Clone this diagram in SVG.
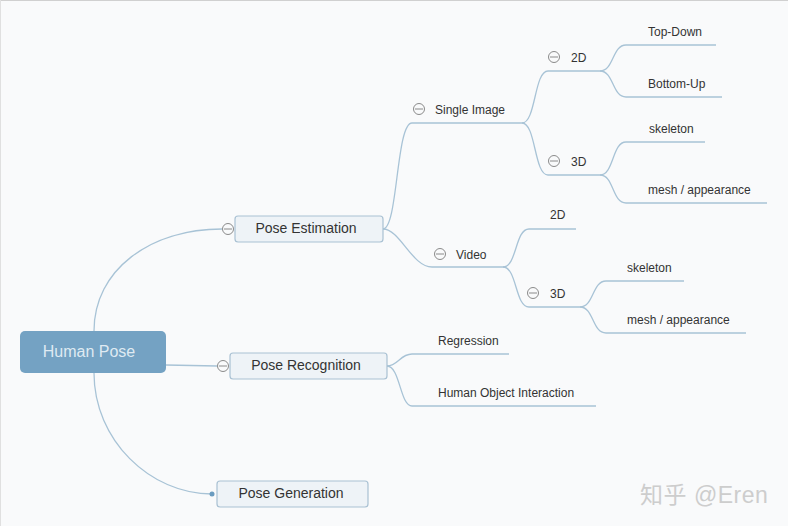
<svg xmlns="http://www.w3.org/2000/svg" width="788" height="526" viewBox="0 0 788 526">
<style>
.bg{fill:#f9fafb}
.c{fill:none;stroke:#a8c3d6;stroke-width:1.3}
.box{fill:#eef3f7;stroke:#a9c1d3;stroke-width:1.2}
.t{font-family:"Liberation Sans",Arial,sans-serif;fill:#333;font-size:12px}
.tb{font-family:"Liberation Sans",Arial,sans-serif;fill:#333;font-size:14px;text-anchor:middle}
.tog{fill:#f9fafb;stroke:#8a8a8a;stroke-width:1}
.wm{font-family:"Liberation Sans","Noto Sans CJK SC",sans-serif;fill:#cdcdcd;font-size:23px;letter-spacing:0.5px}
</style>
<defs>
<g id="toggle"><circle class="tog" r="5.5"/><line x1="-4" y1="0" x2="4" y2="0" stroke="#8a8a8a" stroke-width="1"/></g>
</defs>
<rect class="bg" x="0" y="0" width="788" height="526"/>
<line x1="0" y1="0.5" x2="788" y2="0.5" stroke="#d0d0d0"/>
<line x1="0.5" y1="0" x2="0.5" y2="526" stroke="#e0e0e0"/>
<g id="connectors">
<path class="c" d="M94,331 C94,270 150,229 222,229"/>
<path class="c" d="M94,373 C94,440 150,494 212,494"/>
<path class="c" d="M166,365 L217,366"/>
<path class="c" d="M383,229 C398,229 396,123 412,123 L522,123"/>
<path class="c" d="M383,229 C400,229 412,267 432,267 L503,267"/>
<path class="c" d="M522,123 C536,123 534,71 548,71 L600,71"/>
<path class="c" d="M522,123 C536,123 534,175 548,175 L600,175"/>
<path class="c" d="M600,71 C614,71 612,45 626,45 L716,45"/>
<path class="c" d="M600,71 C614,71 612,97 626,97 L722,97"/>
<path class="c" d="M600,175 C614,175 612,142 626,142 L705,142"/>
<path class="c" d="M600,175 C614,175 612,203 626,203 L767,203"/>
<path class="c" d="M503,267 C517,267 515,229 529,229 L576,229"/>
<path class="c" d="M503,267 C517,267 515,307 529,307 L580,307"/>
<path class="c" d="M580,307 C594,307 592,281 606,281 L684,281"/>
<path class="c" d="M580,307 C594,307 592,333 606,333 L746,333"/>
<path class="c" d="M387,366 C398,366 400,354 412,354 L509,354"/>
<path class="c" d="M387,366 C400,366 400,406 412,406 L596,406"/>
</g>
<g id="root">
<rect x="20" y="331" width="146" height="42" rx="5" fill="#74a2c3"/>
<text x="89" y="357" font-family="Liberation Sans,Arial,sans-serif" font-size="16" fill="#dfeaf2" text-anchor="middle">Human Pose</text>
</g>
<g id="pose-estimation">
<rect class="box" x="235" y="216" width="148" height="26" rx="3"/>
<text class="tb" x="306" y="233">Pose Estimation</text>
<use href="#toggle" x="228" y="229"/>
</g>
<g id="pose-recognition">
<rect class="box" x="230" y="353" width="157" height="26" rx="3"/>
<text class="tb" x="306" y="370">Pose Recognition</text>
<use href="#toggle" x="223" y="366"/>
</g>
<g id="pose-generation">
<rect class="box" x="217" y="481" width="151" height="26" rx="3"/>
<text class="tb" x="291" y="498">Pose Generation</text>
<circle cx="212" cy="494" r="2.5" fill="#6a9cc0"/>
</g>
<g id="single-image"><use href="#toggle" x="419" y="109"/><text class="t" x="435" y="114">Single Image</text></g>
<g id="video"><use href="#toggle" x="440" y="254"/><text class="t" x="456" y="259">Video</text></g>
<g id="si-2d"><use href="#toggle" x="554" y="57"/><text class="t" x="571" y="62">2D</text></g>
<g id="si-3d"><use href="#toggle" x="554" y="161"/><text class="t" x="571" y="166">3D</text></g>
<g id="top-down"><text class="t" x="648" y="36">Top-Down</text></g>
<g id="bottom-up"><text class="t" x="648" y="88">Bottom-Up</text></g>
<g id="si-skeleton"><text class="t" x="649" y="133">skeleton</text></g>
<g id="si-mesh"><text class="t" x="648" y="194">mesh / appearance</text></g>
<g id="v-2d"><text class="t" x="550" y="219">2D</text></g>
<g id="v-3d"><use href="#toggle" x="533" y="293"/><text class="t" x="550" y="298">3D</text></g>
<g id="v-skeleton"><text class="t" x="627" y="272">skeleton</text></g>
<g id="v-mesh"><text class="t" x="627" y="324">mesh / appearance</text></g>
<g id="regression"><text class="t" x="438" y="345">Regression</text></g>
<g id="hoi"><text class="t" x="438" y="397">Human Object Interaction</text></g>
<text class="wm" x="640" y="503">知乎 @Eren</text>
</svg>
